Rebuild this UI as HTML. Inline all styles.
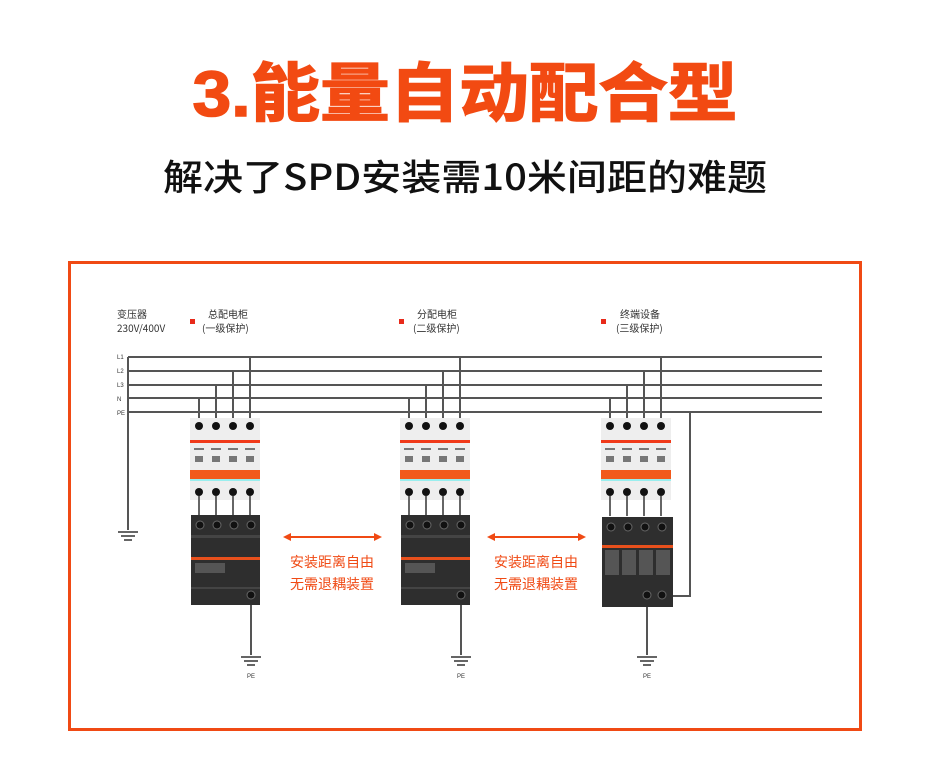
<!DOCTYPE html>
<html><head><meta charset="utf-8"><style>
html,body{margin:0;padding:0;background:#fff;width:930px;height:780px;overflow:hidden}
svg{display:block}
</style></head><body>
<svg width="930" height="780" viewBox="0 0 930 780" xmlns="http://www.w3.org/2000/svg">
<defs>
  <g id="brk">
    <rect x="0" y="0" width="70" height="82" fill="#eeeeee"/>
    <rect x="0" y="22" width="70" height="3" fill="#f03a1a"/>
    <g fill="#777"><rect x="4" y="30" width="10" height="2"/><rect x="21" y="30" width="10" height="2"/><rect x="38" y="30" width="10" height="2"/><rect x="55" y="30" width="10" height="2"/>
    <rect x="5" y="38" width="8" height="6"/><rect x="22" y="38" width="8" height="6"/><rect x="39" y="38" width="8" height="6"/><rect x="56" y="38" width="8" height="6"/></g>
    <rect x="0" y="52" width="70" height="9" fill="#f25a1c"/>
    <rect x="0" y="61" width="70" height="2" fill="#9ee"/>
    <g fill="#111"><circle cx="9" cy="8" r="4"/><circle cx="26" cy="8" r="4"/><circle cx="43" cy="8" r="4"/><circle cx="60" cy="8" r="4"/>
    <circle cx="9" cy="74" r="4"/><circle cx="26" cy="74" r="4"/><circle cx="43" cy="74" r="4"/><circle cx="60" cy="74" r="4"/></g>
    <g stroke="#666" stroke-width="2"><line x1="9" y1="78" x2="9" y2="98"/><line x1="26" y1="78" x2="26" y2="98"/><line x1="43" y1="78" x2="43" y2="98"/><line x1="60" y1="78" x2="60" y2="98"/></g>
  </g>
  <g id="spd">
    <rect x="0" y="0" width="69" height="90" fill="#2e2e2e"/>
    <rect x="0" y="20" width="69" height="3" fill="#444"/>
    <rect x="0" y="42" width="69" height="3" fill="#e8501c"/>
    <rect x="4" y="48" width="30" height="10" fill="#555"/>
    <rect x="0" y="72" width="69" height="2" fill="#444"/>
    <g fill="#111" stroke="#666" stroke-width="1"><circle cx="9" cy="10" r="4"/><circle cx="26" cy="10" r="4"/><circle cx="43" cy="10" r="4"/><circle cx="60" cy="10" r="4"/><circle cx="60" cy="80" r="4"/></g>
  </g>
  <g id="gnd" stroke="#333" stroke-width="1.5"><line x1="-10" y1="0" x2="10" y2="0"/><line x1="-7" y1="4" x2="7" y2="4"/><line x1="-4" y1="8" x2="4" y2="8"/></g>
</defs>

<text x="465" y="116" text-anchor="middle" font-family="Liberation Sans, Noto Sans CJK SC, sans-serif" font-weight="bold" font-size="64" fill="#f24a12" stroke="#f24a12" stroke-width="1.5" textLength="545" lengthAdjust="spacingAndGlyphs">3.能量自动配合型</text>
<text x="465" y="190" text-anchor="middle" font-family="Noto Sans CJK SC, sans-serif" font-weight="500" font-size="36" fill="#111" textLength="604" lengthAdjust="spacingAndGlyphs">解决了SPD安装需10米间距的难题</text>

<rect x="69.5" y="262.5" width="791" height="467" fill="none" stroke="#f04a14" stroke-width="3"/>

<g font-family="Noto Sans CJK SC, sans-serif" font-size="10" fill="#333">
<text x="117" y="318">变压器</text><text x="117" y="332">230V/400V</text>
<text x="208" y="318">总配电柜</text><text x="202" y="332">(一级保护)</text>
<text x="417" y="318">分配电柜</text><text x="413" y="332">(二级保护)</text>
<text x="620" y="318">终端设备</text><text x="616" y="332">(三级保护)</text>
</g>
<g fill="#e82a1a"><rect x="190" y="319" width="5" height="5"/><rect x="399" y="319" width="5" height="5"/><rect x="601" y="319" width="5" height="5"/></g>
<g font-family="Liberation Sans, sans-serif" font-size="6" fill="#333">
<text x="117" y="359">L1</text><text x="117" y="373">L2</text><text x="117" y="387">L3</text><text x="117" y="401">N</text><text x="117" y="415">PE</text></g>

<g stroke="#555" stroke-width="2" fill="none">
<line x1="128" y1="357" x2="822" y2="357"/><line x1="128" y1="371" x2="822" y2="371"/><line x1="128" y1="385" x2="822" y2="385"/><line x1="128" y1="398" x2="822" y2="398"/><line x1="128" y1="412" x2="822" y2="412"/>
<line x1="128" y1="357" x2="128" y2="530"/>
<line x1="199" y1="398" x2="199" y2="425"/><line x1="216" y1="385" x2="216" y2="425"/><line x1="233" y1="371" x2="233" y2="425"/><line x1="250" y1="357" x2="250" y2="425"/>
<line x1="409" y1="398" x2="409" y2="425"/><line x1="426" y1="385" x2="426" y2="425"/><line x1="443" y1="371" x2="443" y2="425"/><line x1="460" y1="357" x2="460" y2="425"/>
<line x1="610" y1="398" x2="610" y2="425"/><line x1="627" y1="385" x2="627" y2="425"/><line x1="644" y1="371" x2="644" y2="425"/><line x1="661" y1="357" x2="661" y2="425"/>
<polyline points="673,596 690,596 690,412"/>
<line x1="251" y1="600" x2="251" y2="655"/><line x1="461" y1="600" x2="461" y2="655"/><line x1="647" y1="600" x2="647" y2="655"/>
</g>
<use href="#gnd" x="128" y="532"/>
<use href="#gnd" x="251" y="657"/><use href="#gnd" x="461" y="657"/><use href="#gnd" x="647" y="657"/>

<use href="#brk" x="190" y="418"/><use href="#brk" x="400" y="418"/><use href="#brk" x="601" y="418"/>
<use href="#spd" x="191" y="515"/><use href="#spd" x="401" y="515"/>
<g>
<rect x="602" y="517" width="71" height="90" fill="#2e2e2e"/>
<rect x="602" y="545" width="71" height="3" fill="#e8501c"/>
<g fill="#555"><rect x="605" y="550" width="14" height="25"/><rect x="622" y="550" width="14" height="25"/><rect x="639" y="550" width="14" height="25"/><rect x="656" y="550" width="14" height="25"/></g>
<g fill="#111" stroke="#666"><circle cx="611" cy="527" r="4"/><circle cx="628" cy="527" r="4"/><circle cx="645" cy="527" r="4"/><circle cx="662" cy="527" r="4"/><circle cx="647" cy="595" r="4"/><circle cx="662" cy="595" r="4"/></g>
</g>

<g stroke="#f04a14" stroke-width="2" fill="#f04a14">
<line x1="290" y1="537" x2="375" y2="537"/><polygon points="283,537 291,533 291,541" stroke="none"/><polygon points="382,537 374,533 374,541" stroke="none"/>
<line x1="494" y1="537" x2="579" y2="537"/><polygon points="487,537 495,533 495,541" stroke="none"/><polygon points="586,537 578,533 578,541" stroke="none"/>
</g>
<g font-family="Noto Sans CJK SC, sans-serif" font-size="14" fill="#f04a14" text-anchor="middle">
<text x="332" y="567">安装距离自由</text><text x="332" y="589">无需退耦装置</text>
<text x="536" y="567">安装距离自由</text><text x="536" y="589">无需退耦装置</text>
</g>
<g font-family="Liberation Sans, sans-serif" font-size="6" fill="#333" text-anchor="middle">
<text x="251" y="678">PE</text><text x="461" y="678">PE</text><text x="647" y="678">PE</text></g>
</svg>
</body></html>
